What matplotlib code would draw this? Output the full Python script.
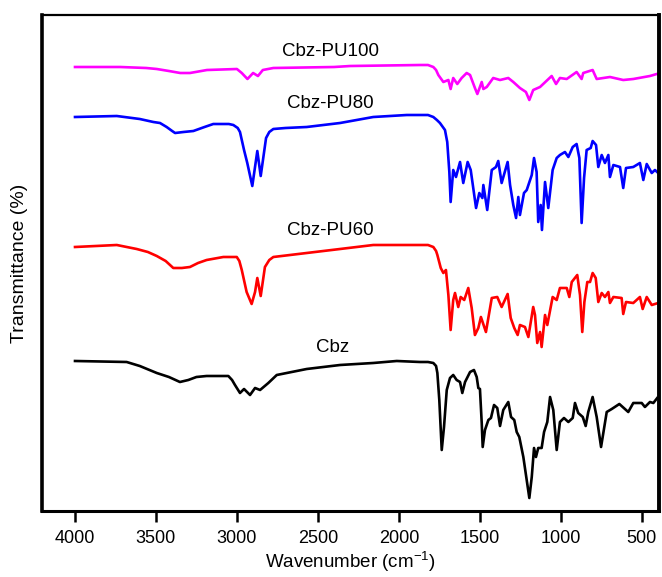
import matplotlib
matplotlib.use("Agg")
import matplotlib.pyplot as plt

plt.rcParams["font.family"] = ["Liberation Sans", "DejaVu Sans"]
plt.rcParams["mathtext.fontset"] = "custom"
plt.rcParams["mathtext.rm"] = "Liberation Sans"
plt.rcParams["mathtext.it"] = "Liberation Sans:italic"

# spectra: wavenumber (cm-1) and relative transmittance (offset, arb. units)
pu100_wn = [4000, 3720, 3560, 3495, 3420, 3350, 3290, 3185, 3000, 2970, 2935, 2900, 2870, 2840, 2775,
            2400, 2300, 1869, 1820, 1787, 1770, 1756, 1725, 1694, 1680, 1664, 1639, 1612, 1581, 1560,
            1530, 1515, 1488, 1478, 1457, 1417, 1375, 1324, 1293, 1252, 1215, 1194, 1170, 1128, 1056,
            1029, 1005, 963, 902, 871, 861, 803, 778, 696, 614, 552, 449, 407]
pu100_t = [444, 444, 443, 442, 440, 438, 438, 441, 442, 438, 432, 438, 435, 441, 443,
           444, 445, 446, 446, 444, 441, 436, 429, 431, 422, 433, 427, 433, 438, 436,
           423, 417, 429, 422, 424, 433, 431, 433, 429, 423, 419, 411, 421, 424, 435,
           427, 433, 432, 439, 432, 438, 441, 432, 434, 431, 432, 435, 437]

pu80_wn = [4000, 3742, 3600, 3516, 3475, 3434, 3400, 3382, 3330, 3269, 3200, 3146, 3050, 3022, 2995,
           2981, 2956, 2936, 2905, 2874, 2853, 2820, 2800, 2775, 2700, 2569, 2363, 2158, 1951, 1869,
           1820, 1787, 1765, 1746, 1715, 1701, 1688, 1680, 1664, 1647, 1622, 1602, 1575, 1556, 1523,
           1503, 1484, 1478, 1454, 1426, 1400, 1386, 1365, 1328, 1313, 1293, 1276, 1262, 1252, 1227,
           1210, 1179, 1165, 1149, 1139, 1124, 1116, 1097, 1077, 1050, 1025, 1005, 974, 953, 926,
           902, 885, 871, 856, 840, 815, 803, 782, 768, 747, 727, 706, 696, 675, 634,
           614, 597, 552, 511, 490, 469, 438, 418, 398]
pu80_t = [394, 395, 392, 389, 388, 384, 380, 378, 379, 380, 384, 387, 387, 386, 383,
          379, 361, 348, 325, 360, 335, 373, 379, 382, 383, 384, 388, 394, 396, 396,
          396, 394, 391, 388, 381, 369, 339, 309, 341, 334, 349, 328, 349, 341, 303,
          318, 313, 326, 301, 341, 344, 350, 328, 349, 326, 306, 293, 314, 296, 318,
          321, 336, 353, 339, 289, 306, 281, 329, 303, 341, 353, 356, 359, 354, 364,
          367, 353, 288, 333, 361, 363, 370, 366, 344, 356, 348, 356, 334, 346, 344,
          323, 343, 344, 348, 331, 347, 338, 341, 338]

pu60_wn = [4000, 3742, 3619, 3550, 3495, 3440, 3393, 3340, 3290, 3240, 3187, 3084, 3001, 2985, 2970,
           2940, 2909, 2888, 2874, 2853, 2827, 2800, 2775, 2569, 2363, 2158, 1869, 1820, 1787, 1770,
           1762, 1741, 1725, 1709, 1694, 1680, 1664, 1653, 1633, 1618, 1596, 1571, 1550, 1530, 1509,
           1493, 1462, 1426, 1392, 1365, 1328, 1309, 1287, 1266, 1252, 1221, 1200, 1170, 1159, 1145,
           1128, 1118, 1097, 1083, 1050, 1025, 1005, 963, 947, 932, 898, 881, 867, 854, 836,
           819, 803, 784, 768, 747, 727, 706, 696, 675, 624, 614, 597, 552, 511, 494,
           469, 438, 398]
pu60_t = [264, 266, 262, 259, 255, 250, 243, 243, 244, 248, 251, 254, 254, 250, 241,
          219, 207, 219, 233, 215, 244, 251, 254, 258, 262, 266, 266, 266, 264, 260,
          256, 243, 238, 241, 216, 181, 211, 218, 204, 214, 211, 223, 203, 176, 183,
          194, 179, 213, 214, 204, 217, 193, 183, 176, 186, 184, 174, 204, 196, 168,
          179, 164, 196, 186, 214, 211, 223, 223, 214, 229, 236, 216, 179, 209, 229,
          229, 238, 233, 209, 218, 214, 219, 208, 214, 213, 197, 209, 208, 214, 202,
          214, 206, 208]

cbz_wn = [4000, 3681, 3600, 3495, 3420, 3352, 3300, 3250, 3187, 3053, 3030, 3012, 2981, 2956, 2919,
          2888, 2857, 2806, 2754, 2569, 2363, 2158, 2013, 1869, 1820, 1787, 1770, 1762, 1750, 1735,
          1721, 1704, 1684, 1664, 1643, 1622, 1608, 1591, 1560, 1536, 1519, 1509, 1499, 1488, 1482,
          1468, 1447, 1431, 1412, 1392, 1375, 1355, 1324, 1307, 1287, 1272, 1256, 1231, 1194, 1179,
          1165, 1153, 1139, 1118, 1103, 1083, 1066, 1046, 1025, 1005, 980, 953, 926, 912, 892,
          864, 846, 830, 803, 778, 751, 716, 685, 638, 583, 552, 500, 480, 449, 428,
          404]
cbz_t = [150, 149, 145, 138, 134, 129, 131, 134, 135, 135, 131, 126, 118, 122, 116,
         123, 121, 128, 136, 142, 146, 148, 150, 149, 149, 148, 145, 138, 111, 61,
         84, 121, 133, 136, 131, 129, 118, 129, 139, 141, 134, 123, 122, 88, 64,
         81, 91, 93, 106, 103, 85, 101, 109, 94, 91, 79, 74, 54, 13, 34,
         63, 54, 63, 63, 79, 89, 114, 101, 61, 89, 93, 89, 93, 108, 98,
         94, 85, 99, 114, 94, 64, 99, 102, 107, 99, 108, 108, 104, 109, 108,
         113]

names = ["Cbz-PU100", "Cbz-PU80", "Cbz-PU60", "Cbz"]
colors = ["#ff00ff", "#0000ff", "#ff0000", "#000000"]
label_x = [2425, 2425, 2425, 2410]
label_y = [460, 408, 280, 163]

fig = plt.figure(figsize=(6.62, 5.77), dpi=100)
ax = fig.add_axes([0.0634, 0.1144, 0.9321, 0.8596])

series = [(pu100_wn, pu100_t), (pu80_wn, pu80_t), (pu60_wn, pu60_t), (cbz_wn, cbz_t)]
for (wn, t), c in zip(series, colors):
    ax.plot(wn, t, color=c, lw=1.9, solid_joinstyle="round")

for name, x, y in zip(names, label_x, label_y):
    ax.text(x, y, name, fontsize=13.5, ha="center", va="center")

ax.set_xlim(4204, 393)
ax.set_ylim(0, 496)
ax.set_xticks([4000, 3500, 3000, 2500, 2000, 1500, 1000, 500])
ax.set_yticks([])
ax.tick_params(axis="x", direction="out", length=8, width=1.8, labelsize=13, pad=6)
for side, w in [("left", 2.6), ("bottom", 2.2), ("right", 2.8), ("top", 1.6)]:
    ax.spines[side].set_linewidth(w)

ax.set_xlabel("Wavenumber (cm$^{-1}$)", fontsize=13.5, labelpad=2)
ax.set_ylabel("Transmittance (%)", fontsize=14, labelpad=10)

fig.savefig("out.png", dpi=100)
